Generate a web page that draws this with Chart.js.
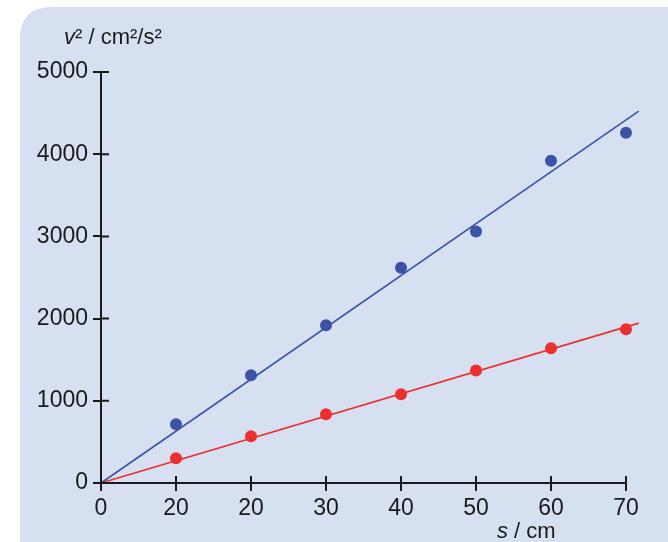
<!DOCTYPE html>
<html>
<head>
<meta charset="utf-8">
<script src="https://cdn.jsdelivr.net/npm/chart.js@4"></script>
<style>
  html, body { margin: 0; padding: 0; background: #ffffff; }
  #wrap { width: 668px; height: 542px; position: relative; }
</style>
</head>
<body>
<div id="wrap"><canvas id="chart"></canvas></div>
<script>
// s / cm positions of the measurements
const sValues = [10, 20, 30, 40, 50, 60, 70];
// v² / cm²/s² measurements
const blueValues = [715, 1310, 1920, 2620, 3060, 3920, 4260];
const redValues = [300, 570, 835, 1080, 1370, 1640, 1870];
// best fit lines (start and end points)
const fitS = [0, 71.7];
const blueFit = [0, 4525];
const redFit = [0, 1945];
// axis ticks
const xTickValues = [0, 10, 20, 30, 40, 50, 60, 70];
const xTickLabels = ['0', '20', '20', '30', '40', '50', '60', '70'];
const yTickValues = [0, 1000, 2000, 3000, 4000, 5000];

const FONT = "'Liberation Sans', Arial, sans-serif";
const INK = '#1a1a1a';
const BLUE = '#3a53a4';
const RED = '#ec2f2f';

const toPoints = (xs, ys) => xs.map((x, i) => ({ x: x, y: ys[i] }));

// light blue rounded panel behind the chart
const panel = {
    id: 'panel',
    beforeDraw(chart) {
        const ctx = chart.ctx;
        const x = 20, y = 7, w = 700, h = 600, r = 32;
        ctx.save();
        ctx.fillStyle = '#d7e0f1';
        ctx.beginPath();
        ctx.moveTo(x + r, y);
        ctx.lineTo(x + w, y);
        ctx.lineTo(x + w, y + h);
        ctx.lineTo(x, y + h);
        ctx.lineTo(x, y + r);
        ctx.quadraticCurveTo(x, y, x + r, y);
        ctx.fill();
        ctx.restore();
    },
};

// inner half of the crossing tick marks and the axis titles
const decor = {
    id: 'decor',
    afterDraw(chart) {
        const ctx = chart.ctx;
        const xs = chart.scales.x, ys = chart.scales.y;
        ctx.save();
        ctx.strokeStyle = INK;
        ctx.lineWidth = 2;
        ctx.beginPath();
        xs.ticks.forEach(t => {
            const px = xs.getPixelForValue(t.value);
            ctx.moveTo(px, ys.bottom);
            ctx.lineTo(px, ys.bottom - 7);
        });
        ys.ticks.forEach(t => {
            const py = ys.getPixelForValue(t.value);
            ctx.moveTo(xs.left, py);
            ctx.lineTo(xs.left + 8, py);
        });
        ctx.stroke();

        ctx.fillStyle = INK;
        ctx.textBaseline = 'alphabetic';
        ctx.textAlign = 'left';
        // y title
        let x0 = 64;
        ctx.font = 'italic 22px ' + FONT;
        ctx.fillText('v', x0, 44);
        x0 += ctx.measureText('v').width;
        ctx.font = '22px ' + FONT;
        ctx.fillText('² / cm²/s²', x0, 44);
        // x title
        x0 = 497;
        ctx.font = 'italic 22px ' + FONT;
        ctx.fillText('s', x0, 538);
        x0 += ctx.measureText('s').width;
        ctx.font = '22px ' + FONT;
        ctx.fillText(' / cm', x0, 538);
        ctx.restore();
    },
};

new Chart(document.getElementById('chart'), {
    type: 'scatter',
    data: {
        datasets: [
            {
                type: 'line',
                data: toPoints(fitS, blueFit),
                borderColor: BLUE,
                borderWidth: 1.6,
                pointRadius: 0,
                clip: false,
            },
            {
                type: 'line',
                data: toPoints(fitS, redFit),
                borderColor: RED,
                borderWidth: 1.6,
                pointRadius: 0,
                clip: false,
            },
            {
                data: toPoints(sValues, blueValues),
                backgroundColor: BLUE,
                borderWidth: 0,
                pointRadius: 6,
                clip: false,
            },
            {
                data: toPoints(sValues, redValues),
                backgroundColor: RED,
                borderWidth: 0,
                pointRadius: 6,
                clip: false,
            },
        ],
    },
    options: {
        responsive: true,
        maintainAspectRatio: false,
        animation: false,
        layout: { padding: { top: 72, right: 42, left: 0, bottom: 0 } },
        plugins: {
            legend: { display: false },
            tooltip: { enabled: false },
        },
        scales: {
            x: {
                type: 'linear',
                min: 0,
                max: 70,
                afterBuildTicks: (axis) => { axis.ticks = xTickValues.map(v => ({ value: v })); },
                afterFit: (axis) => { axis.height = 59; },
                border: { display: true, color: INK, width: 2 },
                grid: { drawOnChartArea: false, color: INK, lineWidth: 2, tickLength: 8 },
                ticks: {
                    color: INK,
                    padding: 4,
                    maxRotation: 0,
                    font: { family: FONT, size: 23 },
                    callback: (v) => xTickLabels[xTickValues.indexOf(v)],
                },
            },
            y: {
                min: 0,
                max: 5000,
                afterBuildTicks: (axis) => { axis.ticks = yTickValues.map(v => ({ value: v })); },
                afterFit: (axis) => { axis.width = 101; },
                border: { display: true, color: INK, width: 2 },
                grid: { drawOnChartArea: false, color: INK, lineWidth: 2, tickLength: 8 },
                ticks: {
                    color: INK,
                    padding: 5,
                    font: { family: FONT, size: 23 },
                    callback: (v) => String(v),
                },
            },
        },
    },
    plugins: [panel, decor],
});
</script>
</body>
</html>
